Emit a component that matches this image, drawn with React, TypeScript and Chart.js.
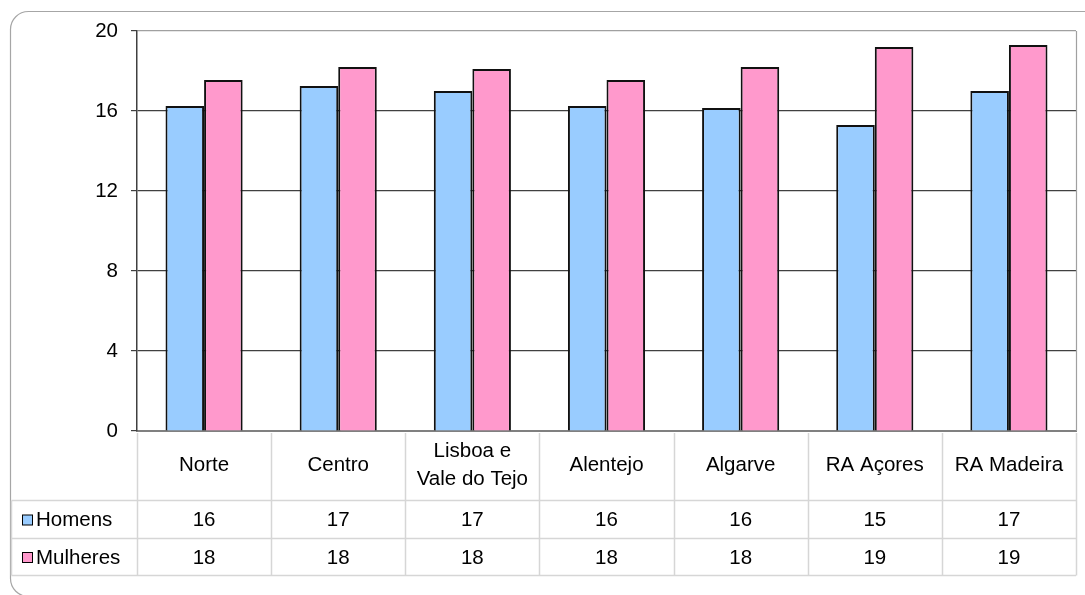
import React, { useEffect, useRef } from "react";
import { Chart, registerables } from "chart.js";

Chart.register(...registerables);

const categories: string[][] = [
  ["Norte"],
  ["Centro"],
  ["Lisboa e", "Vale do Tejo"],
  ["Alentejo"],
  ["Algarve"],
  ["RA Açores"],
  ["RA Madeira"],
];
const homens = [16.25, 17.25, 17.0, 16.25, 16.15, 15.3, 17.0];
const mulheres = [17.55, 18.2, 18.1, 17.55, 18.2, 19.2, 19.3];
const seriesNames = ["Homens", "Mulheres"];
const seriesColors = ["#99CCFF", "#FF99CC"];
const yTicks = [0, 4, 8, 12, 16, 20];

const FONT = "'Liberation Sans', Arial, sans-serif";
const FSIZE = 20.5;

const framePlugin = {
  id: "frame",
  beforeDraw(chart: any) {
    const ctx = chart.ctx;
    ctx.save();
    ctx.fillStyle = "#ffffff";
    ctx.fillRect(0, 0, chart.width, chart.height);
    ctx.strokeStyle = "#a6a6a6";
    ctx.lineWidth = 1.2;
    ctx.beginPath();
    ctx.roundRect(10.5, 11.5, 1095, 585, 18);
    ctx.stroke();
    ctx.restore();
  },
};

const tablePlugin = {
  id: "dataTable",
  afterDraw(chart: any) {
    const ctx = chart.ctx;
    const area = chart.chartArea;
    const x = chart.scales.x;
    const n = categories.length;
    const step = x.getPixelForValue(1) - x.getPixelForValue(0);
    const top = area.bottom;
    const row1 = 500.5;
    const row2 = 538.5;
    const bottom = 575.5;
    const left = 11.5;
    ctx.save();
    // plot right border
    ctx.strokeStyle = "#a0a0a0";
    ctx.lineWidth = 1.2;
    ctx.beginPath();
    ctx.moveTo(Math.round(area.right) + 0.5, area.top);
    ctx.lineTo(Math.round(area.right) + 0.5, area.bottom);
    ctx.stroke();

    ctx.strokeStyle = "#d6d6d6";
    ctx.lineWidth = 1.5;
    ctx.beginPath();
    for (let i = 0; i <= n; i++) {
      const bx = Math.round(x.getPixelForValue(0) - step / 2 + i * step) + 0.5;
      ctx.moveTo(bx, top + 2);
      ctx.lineTo(bx, bottom);
    }
    ctx.moveTo(left, row1);
    ctx.lineTo(left, bottom);
    [row1, row2, bottom].forEach((ry) => {
      ctx.moveTo(left, ry);
      ctx.lineTo(area.right, ry);
    });
    ctx.stroke();

    ctx.fillStyle = "#000";
    ctx.font = `${FSIZE}px ${FONT}`;
    ctx.textAlign = "center";
    ctx.textBaseline = "middle";
    const labelMid = (top + row1) / 2;
    categories.forEach((lines, i) => {
      const cx = x.getPixelForValue(i);
      const lh = 28;
      lines.forEach((ln, j) => {
        const y = labelMid + (j - (lines.length - 1) / 2) * lh;
        ctx.fillText(ln, cx, y);
      });
      ctx.fillText(String(Math.round(homens[i])), cx, (row1 + row2) / 2 + 1);
      ctx.fillText(String(Math.round(mulheres[i])), cx, (row2 + bottom) / 2 + 1);
    });

    // legend keys
    const rows = [(row1 + row2) / 2, (row2 + bottom) / 2];
    ctx.textAlign = "left";
    rows.forEach((ry, k) => {
      ctx.fillStyle = seriesColors[k];
      ctx.fillRect(22.5, ry - 4.5, 10, 10);
      ctx.strokeStyle = "#000";
      ctx.lineWidth = 1;
      ctx.strokeRect(22.5, ry - 4.5, 10, 10);
      ctx.fillStyle = "#000";
      ctx.fillText(seriesNames[k], 36, ry + 1);
    });
    ctx.restore();
  },
};

export default function App() {
  const ref = useRef<HTMLCanvasElement | null>(null);
  useEffect(() => {
    document.body.style.margin = "0";
    document.body.style.overflow = "hidden";
    const canvas = ref.current!;
    const chart = new Chart(canvas, {
      type: "bar",
      data: {
        labels: categories.map((c) => c.join(" ")),
        datasets: [
          {
            label: seriesNames[0],
            data: homens,
            backgroundColor: seriesColors[0],
            borderColor: "#111",
            borderWidth: 2,
            categoryPercentage: 0.575,
            barPercentage: 1,
          },
          {
            label: seriesNames[1],
            data: mulheres,
            backgroundColor: seriesColors[1],
            borderColor: "#111",
            borderWidth: 2,
            categoryPercentage: 0.575,
            barPercentage: 1,
          },
        ],
      },
      options: {
        responsive: false,
        animation: false,
        layout: { padding: { top: 31, right: 9, left: 0, bottom: 0 } },
        plugins: { legend: { display: false }, tooltip: { enabled: false } },
        scales: {
          x: {
            ticks: { display: false },
            grid: { display: false },
            border: { display: true, color: "#808080", width: 2 },
            afterFit: (s: any) => {
              s.height = 164;
            },
          },
          y: {
            min: 0,
            max: 20,
            afterBuildTicks: (s: any) => {
              s.ticks = yTicks.map((v) => ({ value: v }));
            },
            ticks: {
              font: { family: FONT, size: FSIZE },
              color: "#000",
              padding: 13,
            },
            grid: {
              color: (c: any) => (c.tick && c.tick.value === 20 ? "#a0a0a0" : "#404040"),
              tickColor: "#404040",
              tickLength: 6,
              lineWidth: 1.2,
            },
            border: { display: true, color: "#404040", width: 1.5 },
            afterFit: (s: any) => {
              s.width = 137;
            },
          },
        },
      },
      plugins: [framePlugin, tablePlugin],
    });
    return () => chart.destroy();
  }, []);
  return <canvas ref={ref} width={1085} height={595} style={{ display: "block" }} />;
}
